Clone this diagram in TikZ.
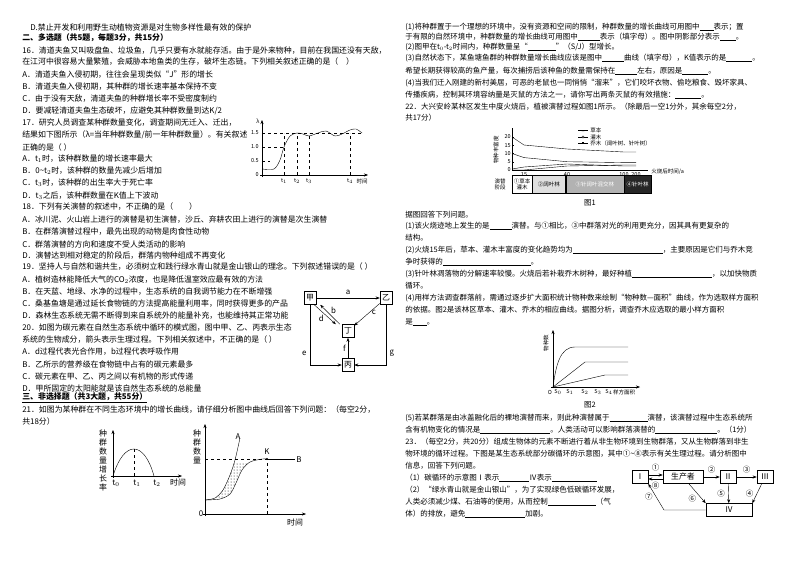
\documentclass[tikz,border=0pt]{standalone}
\usepackage{fontspec}
\setmainfont{Noto Sans CJK SC}
\usetikzlibrary{arrows.meta,patterns}
\newcommand\lf{\fontsize{7.9}{9}\selectfont}
\newcommand\rf{\fontsize{7.5}{9}\selectfont}
\newcommand\smf{\fontsize{5.5}{6}\selectfont}
\newcommand\bl[1][22pt]{\underline{\hspace{#1}}}
\tikzset{L/.style={anchor=west,inner sep=0,font=\lf},R/.style={anchor=west,inner sep=0,font=\rf},
 sm/.style={inner sep=0,font=\smf},box/.style={draw,inner sep=2pt,font=\lf,minimum height=13pt},
 ar/.style={-{Stealth[length=4pt,width=3pt]}},dsh/.style={dashed,thin}}
\begin{document}
\begin{tikzpicture}[x=1pt,y=-1pt,line width=0.6pt]
\useasboundingbox (0,0) rectangle (794,560);
\fill[white] (0,0) rectangle (794,560);
% left column
\node[L] (l0) at (30,27) {D.禁止开发和利用野生动植物资源是对生物多样性最有效的保护};
\node[L] (l1) at (22,38) {\textbf{二、多选题（共5题，每题3分，共15分）}};
\node[L] (l2) at (22,51) {16．清道夫鱼又叫吸盘鱼、垃圾鱼，几乎只要有水就能存活。由于是外来物种，目前在我国还没有天敌，};
\node[L] (l3) at (22,62) {在江河中很容易大量繁殖，会威胁本地鱼类的生存，破坏生态链。下列相关叙述正确的是（　）};
\node[L] (l4) at (22,75) {A．清道夫鱼入侵初期，往往会呈现类似“J”形的增长};
\node[L] (l5) at (22,87) {B．清道夫鱼入侵初期，其种群的增长速率基本保持不变};
\node[L] (l6) at (22,99) {C．由于没有天敌，清道夫鱼的种群增长率不受密度制约};
\node[L] (l7) at (22,111) {D．要减轻清道夫鱼生态破坏，应避免其种群数量到达K/2};
\node[L] (l8) at (22,123) {17．研究人员调查某种群数量变化，调查期间无迁入、迁出，};
\node[L] (l9) at (22,135) {结果如下图所示（λ=当年种群数量/前一年种群数量）。有关叙述};
\node[L] (l10) at (22,147) {正确的是（ ）};
\node[L] (l11) at (22,159) {A．t$_1$时，该种群数量的增长速率最大};
\node[L] (l12) at (22,171) {B．0\textasciitilde{}t$_2$时，该种群的数量先减少后增加};
\node[L] (l13) at (22,183) {C．t$_3$时，该种群的出生率大于死亡率};
\node[L] (l14) at (22,196) {D．t$_3$之后，该种群数量在K值上下波动};
\node[L] (l15) at (22,207) {18．下列有关演替的叙述中，不正确的是（　　）};
\node[L] (l16) at (22,220) {A．冰川泥、火山岩上进行的演替是初生演替，沙丘、弃耕农田上进行的演替是次生演替};
\node[L] (l17) at (22,232) {B．在群落演替过程中，最先出现的动物是肉食性动物};
\node[L] (l18) at (22,244) {C．群落演替的方向和速度不受人类活动的影响};
\node[L] (l19) at (22,256) {D．演替达到相对稳定的阶段后，群落内物种组成不再变化};
\node[L] (l20) at (22,267) {19．坚持人与自然和谐共生，必须树立和践行绿水青山就是金山银山的理念。下列叙述错误的是（ ）};
\node[L] (l21) at (22,280) {A．植树造林能降低大气的CO$_2$浓度，也是降低温室效应最有效的方法};
\node[L] (l22) at (22,292) {B．在天蓝、地绿、水净的过程中，生态系统的自我调节能力在不断增强};
\node[L] (l23) at (22,304) {C．桑基鱼塘是通过延长食物链的方法提高能量利用率，同时获得更多的产品};
\node[L] (l24) at (22,316) {D．森林生态系统无需不断得到来自系统外的能量补充，也能维持其正常功能};
\node[L] (l25) at (22,328) {20．如图为碳元素在自然生态系统中循环的模式图，图中甲、乙、丙表示生态};
\node[L] (l26) at (22,340) {系统的生物成分，箭头表示生理过程。下列相关叙述中，不正确的是（ ）};
\node[L] (l27) at (22,352) {A．d过程代表光合作用，b过程代表呼吸作用};
\node[L] (l28) at (22,364) {B．乙所示的营养级在食物链中占有的碳元素最多};
\node[L] (l29) at (22,376) {C．碳元素在甲、乙、丙之间以有机物的形式传递};
\node[L] (l30) at (22,388) {D．甲所固定的太阳能就是该自然生态系统的总能量};
\node[L] (l31) at (22,398) {\textbf{\underline{三、非选择题（共3大题，共55分）}}};
\node[L] (l32) at (22,410) {21．如图为某种群在不同生态环境中的增长曲线，请仔细分析图中曲线后回答下列问题：（每空2分，};
\node[L] (l33) at (22,421) {共18分）};
% chart 17
\draw[ar,thin] (262,177) -- (262,120);
\draw[ar,thin] (260,175) -- (368,175);
\node[sm] (lam) at (258,121) {λ};
\node[sm,anchor=east] (y15) at (259,133) {1.5};
\node[sm,anchor=east] (y10) at (259,147) {1.0};
\node[sm,anchor=east] (y05) at (259,161) {0.5};
\node[sm,anchor=east] (y0) at (259,175) {0};
\draw[dsh] (262,133) -- (362,133);
\draw[dsh] (262,147) -- (284,147);
\draw[dsh] (262,161) -- (270,161);
\foreach \x in {284,297,309,350} \draw[dsh] (\x,175) -- (\x,133);
\draw[thin] plot[smooth] coordinates {(262,169)(274,169)(280,160)(284,147)(290,136)(297,133)(303,134)(309,136)(318,133)(326,131)(335,136)(342,134)(350,130)(356,129)(362,133)};
\node[sm] (t1) at (284,181) {t$_1$};\node[sm] (t2) at (297,181) {t$_2$};\node[sm] (t3) at (309,181) {t$_3$};\node[sm] (t4) at (350,181) {t$_4$};
\node[sm] (tm) at (362,181) {时间};
% carbon cycle 20
\node[box] (jia) at (310,298) {甲};
\node[box] (yi) at (386,298) {乙};
\node[box] (ding) at (348,331) {丁};
\node[box] (bing) at (348,365) {丙};
\draw[ar,thin] (jia) -- node[above,font=\lf]{a} (yi);
\draw[ar,thin] (yi) -- node[right,pos=0.4,font=\lf,inner sep=2pt]{c} (ding);
\draw[ar,thin] ([xshift=-2pt]ding.north west) -- node[above right,font=\lf,inner sep=1pt]{b} ([xshift=4pt]jia.south east);
\draw[ar,thin] ([xshift=-2pt]jia.south east) -- node[below left,font=\lf,inner sep=1pt]{d} ([xshift=-6pt]ding.north west);
\draw[ar,thin] (jia.south) |- node[pos=0.4,left,font=\lf]{e} (bing.west);
\draw[ar,thin] (yi.south) |- node[pos=0.4,right,font=\lf]{g} (bing.east);
\draw[ar,thin] (bing) -- node[left,font=\lf,inner sep=2pt]{f} (ding);
% fig 21 left
\draw[ar,thin] (113,478) -- (113,430);
\draw[ar,thin] (111,476) -- (182,476);
\node[sm,font=\lf,align=center,text width=8pt] (ylab1) at (103,460) {种\\群\\数\\量\\增\\长\\率};
\draw[thin] (113,476) .. controls (124,440) and (144,440) .. (154,476);
\draw[dsh] (134,449) -- (134,476);
\node[sm,font=\lf] (a0) at (116,483) {t$_0$};\node[sm,font=\lf] (a1) at (137,483) {t$_1$};\node[sm,font=\lf] (a2) at (157,483) {t$_2$};\node[sm,font=\lf] (at) at (178,483) {时间};
% fig 21 right
\draw[ar,thin] (205,516) -- (205,424);
\draw[ar,thin] (203,514) -- (306,514);
\node[sm,font=\lf,align=center,text width=8pt] (ylab2) at (197,447) {种\\群\\数\\量};
\node[sm,font=\lf] (o2) at (201,514) {0};
\node[sm,font=\lf] (tm2) at (295,523) {时间};
\fill[pattern=dots] plot[smooth] coordinates {(205,500)(215,498)(223,490)(230,475)(234,462)} -- (250,462) -- (242,470) -- (236,483) -- (230,494) -- (220,499) -- cycle;
\draw[thin] plot[smooth] coordinates {(205,500)(215,498)(223,490)(230,475)(235,460)(240,438)};
\draw[thin] plot[smooth] coordinates {(205,500)(220,499)(230,494)(236,483)(242,470)(250,462)(262,459)(267,459)};
\draw[dsh] (205,459) -- (267,459) -- (267,514);
\fill (267,459) circle (1.2);
\draw[thin] (267,459) -- (295,459);
\node[sm,font=\lf] (K) at (267,452) {K};
\node[sm,font=\lf] (B) at (299,460) {B};
\node[sm,font=\lf] (A) at (238,437) {A};
% right column
\node[R] (r1) at (405,27) {(1)将种群置于一个理想的环境中，没有资源和空间的限制，种群数量的增长曲线可用图中\bl[14pt]表示；置};
\node[R] (r2) at (405,37) {于有限的自然环境中，种群数量的增长曲线可用图中\bl{}表示（填字母）。图中阴影部分表示\bl[16pt]。};
\node[R] (r3) at (405,47) {(2)图甲在t$_0$-t$_2$时间内，种群数量呈“\bl[28pt]”（S/J）型增长。};
\node[R] (r4) at (405,58) {(3)自然状态下，某鱼塘鱼群的种群数量增长曲线应该是图中\bl{}曲线（填字母），K值表示的是\bl[26pt]。};
\node[R] (r5) at (405,71) {希望长期获得较高的鱼产量，每次捕捞后该种鱼的数量需保持在\bl{}左右，原因是\bl[26pt]。};
\node[R] (r6) at (405,83) {(4)当我们迁入刚建的新村美居，可恶的老鼠也一同悄悄“溜来”，它们咬坏衣物、偷吃粮食、毁坏家具、};
\node[R] (r7) at (405,95) {传播疾病，控制其环境容纳量是灭鼠的方法之一，请你写出两条灭鼠的有效措施：\bl[26pt]。};
\node[R] (r8) at (405,107) {22．大兴安岭某林区发生中度火烧后，植被演替过程如图1所示。（除最后一空1分外，其余每空2分，};
\node[R] (r9) at (405,118) {共17分）};
% fig 1
\draw[thin] (512,128) -- (512,170) -- (648,170);
\node[sm,rotate=90] (ylab3) at (496,150) {物种丰富度};
\foreach \v/\yy in {0/170,5/161.75,10/153.5,15/145.25,20/137} {\draw[thin](512,\yy)--(514,\yy); \node[sm,anchor=east] at (511,\yy) {\v};}
\foreach \t/\xx in {15/524,40/567,100/624,200/636} {\node[sm] at (\xx,175) {\t};}
\node[sm,anchor=west] (xl1) at (651,172) {火烧后时间/a};
\draw[thin] plot[mark=triangle*,mark size=1.3pt] coordinates {(512,137)(524,145)(567,149)(624,152)(636,152)};
\draw[thin] plot[mark=o,mark size=1.2pt] coordinates {(512,153.5)(524,157.6)(567,161.7)(624,162.6)(636,162.6)};
\draw[thin] plot[mark=square*,mark size=1pt] coordinates {(512,169)(524,167)(567,164)(624,166)(636,166)};
\draw[thin] plot[mark=square*,mark size=1pt] coordinates {(512,170)(524,170)(567,166)(624,165)(636,165)};
\draw[thin] (578,130)--(588,130); \fill (583,130) -- ++(-1.3,1) -- ++(2.6,0) -- cycle;
\node[sm,anchor=west] (lg1) at (590,130) {草本};
\draw[thin] (578,137)--(588,137); \draw[thin,fill=white] (583,137) circle (1.2);
\node[sm,anchor=west] (lg2) at (590,137) {灌木};
\draw[thin] (578,143)--(588,143); \fill (582,142) rectangle (584,144);
\node[sm,anchor=west] (lg3) at (590,143) {乔木（阔叶树、针叶树）};
\node[sm,align=center] (yj) at (500,184) {演替\\阶段};
\node[draw,thin,fill=white,minimum width=20pt,minimum height=18pt,inner sep=0,font=\smf,align=center] (s1) at (522,184) {①草本\\灌木};
\node[draw,thin,fill=gray!25,minimum width=33pt,minimum height=18pt,inner sep=0,font=\smf,anchor=west] (s2) at (s1.east) {②阔叶林};
\node[draw,thin,fill=gray!60,minimum width=58pt,minimum height=18pt,inner sep=0,font=\smf,text=white,anchor=west] (s3) at (s2.east) {③针阔叶混交林};
\node[draw,thin,fill=black!85,minimum width=27pt,minimum height=18pt,inner sep=0,font=\smf,text=white,anchor=west] (s4) at (s3.east) {④针叶林};
\node[sm,font=\rf] (f1) at (590,203) {图1};
\node[R] (r10) at (405,215) {据图回答下列问题。};
\node[R] (r11) at (405,226) {(1)该火烧迹地上发生的是\bl{}演替。与①相比，③中群落对光的利用更充分，因其具有更复杂的};
\node[R] (r12) at (405,238) {结构。};
\node[R] (r13) at (405,250) {(2)火烧15年后，草本、灌木丰富度的变化趋势均为\bl[90pt]，主要原因是它们与乔木竞};
\node[R] (r14) at (405,262) {争时获得的\bl[88pt]。};
\node[R] (r15) at (405,274) {(3)针叶林凋落物的分解速率较慢。火烧后若补栽乔木树种，最好种植\bl[80pt]，以加快物质};
\node[R] (r16) at (405,286) {循环。};
\node[R] (r17) at (405,298) {(4)用样方法调查群落前，需通过逐步扩大面积统计物种数来绘制“物种数—面积”曲线，作为选取样方面积};
\node[R] (r18) at (405,310) {的依据。图2是该林区草本、灌木、乔木的相应曲线。据图分析，调查乔木应选取的最小样方面积};
\node[R] (r19) at (405,322) {是\bl[14pt]。};
% fig 2
\draw[ar,thin] (553,388) -- (553,330);
\draw[ar,thin] (551,387) -- (640,387);
\node[sm,rotate=90] (ylab4) at (546,343) {物种数};
\draw[thin] (553,387) .. controls (556,365) and (560,347) .. (575,347) -- (628,347);
\draw[thin] (553,387) -- (585,362) -- (628,362);
\draw[thin] (553,387) -- (605,375) -- (628,375);
\node[sm] (o3) at (550,392) {\textit{O}};
\node[sm] at (558,392) {\textit{S}$_0$};\node[sm] at (570,392) {\textit{S}$_1$};\node[sm] at (585,392) {\textit{S}$_2$};\node[sm] at (598,392) {\textit{S}$_3$};\node[sm] at (609,392) {\textit{S}$_4$};\node[sm] at (624,392) {样方面积};
\node[sm,font=\rf] (f2) at (590,405) {图2};
\node[R] (r20) at (405,418) {(5)若某群落是由冰盖融化后的裸地演替而来，则此种演替属于\bl[38pt]演替，该演替过程中生态系统所};
\node[R] (r21) at (405,430) {含有机物变化的情况是\bl[70pt]。人类活动可以影响群落演替的\bl[62pt]。（1分）};
\node[R] (r22) at (405,442) {23．（每空2分，共20分）组成生物体的元素不断进行着从非生物环境到生物群落，又从生物群落到非生};
\node[R] (r23) at (405,454) {物环境的循环过程。下图是某生态系统部分碳循环的示意图，其中①\textasciitilde{}⑧表示有关生理过程。请分析图中};
\node[R] (r24) at (405,466) {信息，回答下列问题。};
\node[R] (r25) at (405,478) {（1）碳循环的示意图Ⅰ表示\bl[30pt]Ⅳ表示\bl[45pt]};
\node[R] (r26) at (405,490) {（2）“绿水青山就是金山银山”，为了实现绿色低碳循环发展，};
\node[R] (r27) at (405,502) {人类必须减少煤、石油等的使用，从而控制\bl[48pt]（气};
\node[R] (r28) at (405,514) {体）的排放，避免\bl[60pt]加剧。};
% carbon cycle 23
\node[box,minimum width=16pt] (c1) at (640,477) {Ⅰ};
\node[box,minimum width=40pt] (cp) at (683,477) {生产者};
\node[box,minimum width=16pt] (c2) at (728,477) {Ⅱ};
\node[box,minimum width=16pt] (c3) at (765,477) {Ⅲ};
\node[box,minimum width=46pt] (c4) at (729,510) {Ⅳ};
\draw[ar,thin] ([yshift=2pt]c1.east) -- node[above,font=\rf]{①} ([yshift=2pt]cp.west);
\draw[ar,thin] ([yshift=-2pt]cp.west) -- node[below,font=\rf]{⑧} ([yshift=-2pt]c1.east);
\draw[ar,thin] (cp) -- node[above,font=\rf]{②} (c2);
\draw[ar,thin] (c2) -- node[above,font=\rf]{③} (c3);
\draw[ar,thin] (c2) -- node[left,font=\rf]{⑤} (c4);
\draw[ar,thin] (c3) -- node[left,font=\rf]{④} (c4.north east);
\draw[ar,thin] (cp) -- node[below left,font=\rf,inner sep=1pt]{⑥} (c4.north west);
\coordinate (k7) at (664,510);
\draw[ar,thin] (c4.west) -- (k7) -- node[left,font=\rf]{⑦} (c1.south east);
\end{tikzpicture}
\end{document}
